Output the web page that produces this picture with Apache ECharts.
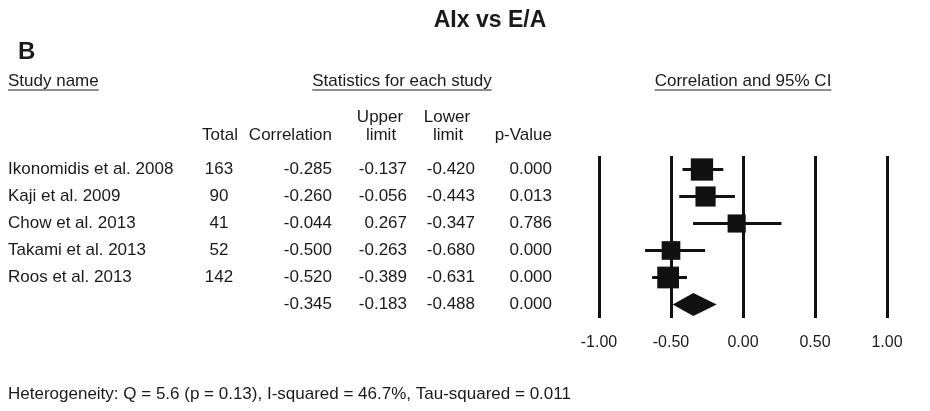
<!DOCTYPE html>
<html>
<head>
<meta charset="utf-8">
<script src="https://cdn.jsdelivr.net/npm/echarts@6/dist/echarts.min.js"></script>
<style>
html,body{margin:0;padding:0;background:#fff;}
#chart{width:930px;height:411px;}
</style>
</head>
<body>
<div id="chart"></div>
<script>
// ---- data ----
const studies = ['Ikonomidis et al. 2008', 'Kaji et al. 2009', 'Chow et al. 2013', 'Takami et al. 2013', 'Roos et al. 2013'];
const totals = [163, 90, 41, 52, 142];
const correlation = [-0.285, -0.260, -0.044, -0.500, -0.520];
const upperLimit = [-0.137, -0.056, 0.267, -0.263, -0.389];
const lowerLimit = [-0.420, -0.443, -0.347, -0.680, -0.631];
const pValues = [0.000, 0.013, 0.786, 0.000, 0.000];
const summaryCorrelation = -0.345;
const summaryUpper = -0.183;
const summaryLower = -0.488;
const summaryP = 0.000;
const xTicks = [-1.00, -0.50, 0.00, 0.50, 1.00];
const titleText = 'AIx vs E/A';
const panelLabel = 'B';
const heterogeneityText = 'Heterogeneity: Q = 5.6 (p = 0.13), I-squared = 46.7%, Tau-squared = 0.011';

// ---- build ----
const FONT = '"Liberation Sans", Arial, Helvetica, sans-serif';
const TXT = '#1a1a1a';
const FS = 17;
const f3 = v => v.toFixed(3);

const nameCol = studies.concat(['']);
const totalCol = totals.map(String).concat(['']);
const corrCol = correlation.map(f3).concat([f3(summaryCorrelation)]);
const upCol = upperLimit.map(f3).concat([f3(summaryUpper)]);
const loCol = lowerLimit.map(f3).concat([f3(summaryLower)]);
const pCol = pValues.map(f3).concat([f3(summaryP)]);

const GRID_LEFT = 599, GRID_RIGHT_X = 887, GRID_TOP = 156, GRID_BOTTOM_Y = 318;

const seriesData = studies.map((s, i) => [lowerLimit[i], upperLimit[i], correlation[i], i, totals[i], 0]);
seriesData.push([summaryLower, summaryUpper, summaryCorrelation, studies.length, 0, 1]);

function colAxis(data, anchorX, align) {
  return {
    type: 'category', gridIndex: 0, inverse: true, position: 'left', data: data,
    axisLine: {show: false}, axisTick: {show: false}, splitLine: {show: false},
    axisLabel: {interval: 0, margin: GRID_LEFT - anchorX, align: align, color: TXT, fontSize: FS, fontFamily: FONT}
  };
}

const ctx = document.createElement('canvas').getContext('2d');
function textW(t, size, weight) { ctx.font = (weight || 'normal') + ' ' + size + 'px ' + FONT; return ctx.measureText(t).width; }

function txt(t, x, y, align, size, weight) {
  return {type: 'text', x: x, y: y, style: {text: t, fill: TXT, font: (weight || 'normal') + ' ' + (size || FS) + 'px ' + FONT, textAlign: align || 'left', textVerticalAlign: 'middle'}};
}
function underlined(t, cx, y, align) {
  const w = textW(t, FS);
  let x0 = align === 'center' ? cx - w / 2 : cx;
  return [txt(t, cx, y, align), {type: 'line', shape: {x1: x0, y1: y + 9, x2: x0 + w, y2: y + 9}, style: {stroke: TXT, lineWidth: 1}}];
}

const graphics = [].concat(
  [txt(titleText, 490, 21, 'center', 23, 'bold'), txt(panelLabel, 18, 52, 'left', 24, 'bold')],
  underlined('Study name', 8, 81, 'left'),
  underlined('Statistics for each study', 402, 81, 'center'),
  underlined('Correlation and 95% CI', 743, 81, 'center'),
  [
    txt('Total', 220, 135, 'center'),
    txt('Correlation', 332, 135, 'right'),
    txt('Upper', 380, 117, 'center'), txt('limit', 381, 135, 'center'),
    txt('Lower', 447, 117, 'center'), txt('limit', 448, 135, 'center'),
    txt('p-Value', 552, 135, 'right'),
    txt(heterogeneityText, 8, 394, 'left')
  ]
);

const chart = echarts.init(document.getElementById('chart'), null, {renderer: 'canvas'});
chart.setOption({
  backgroundColor: '#fff',
  animation: false,
  grid: {left: GRID_LEFT, top: GRID_TOP, width: GRID_RIGHT_X - GRID_LEFT, height: GRID_BOTTOM_Y - GRID_TOP, containLabel: false},
  xAxis: {
    type: 'value', min: xTicks[0], max: xTicks[xTicks.length - 1], interval: 0.5,
    axisLine: {show: false}, axisTick: {show: false},
    splitLine: {show: true, lineStyle: {color: '#111', width: 3}},
    axisLabel: {margin: 17, color: TXT, fontSize: 16, fontFamily: FONT, formatter: v => v.toFixed(2)}
  },
  yAxis: [
    colAxis(nameCol, 8, 'left'),
    colAxis(totalCol, 219, 'center'),
    colAxis(corrCol, 332, 'right'),
    colAxis(upCol, 407, 'right'),
    colAxis(loCol, 475, 'right'),
    colAxis(pCol, 552, 'right')
  ],
  graphic: graphics,
  series: [{
    type: 'custom', xAxisIndex: 0, yAxisIndex: 0,
    encode: {x: [0, 1, 2], y: 3},
    data: seriesData,
    renderItem: function (params, api) {
      const row = api.value(3);
      const lo = api.coord([api.value(0), row]);
      const hi = api.coord([api.value(1), row]);
      const c = api.coord([api.value(2), row]);
      if (api.value(5) === 1) {
        const h = 11.5;
        return {type: 'polygon', shape: {points: [[lo[0], c[1]], [c[0], c[1] - h], [hi[0], c[1]], [c[0], c[1] + h]]}, style: {fill: '#111'}};
      }
      const s = 14 + 0.65 * Math.sqrt(api.value(4));
      return {type: 'group', children: [
        {type: 'line', shape: {x1: lo[0], y1: c[1], x2: hi[0], y2: c[1]}, style: {stroke: '#111', lineWidth: 3}},
        {type: 'rect', shape: {x: c[0] - s / 2, y: c[1] - s / 2, width: s, height: s}, style: {fill: '#111'}}
      ]};
    }
  }]
});
</script>
</body>
</html>
